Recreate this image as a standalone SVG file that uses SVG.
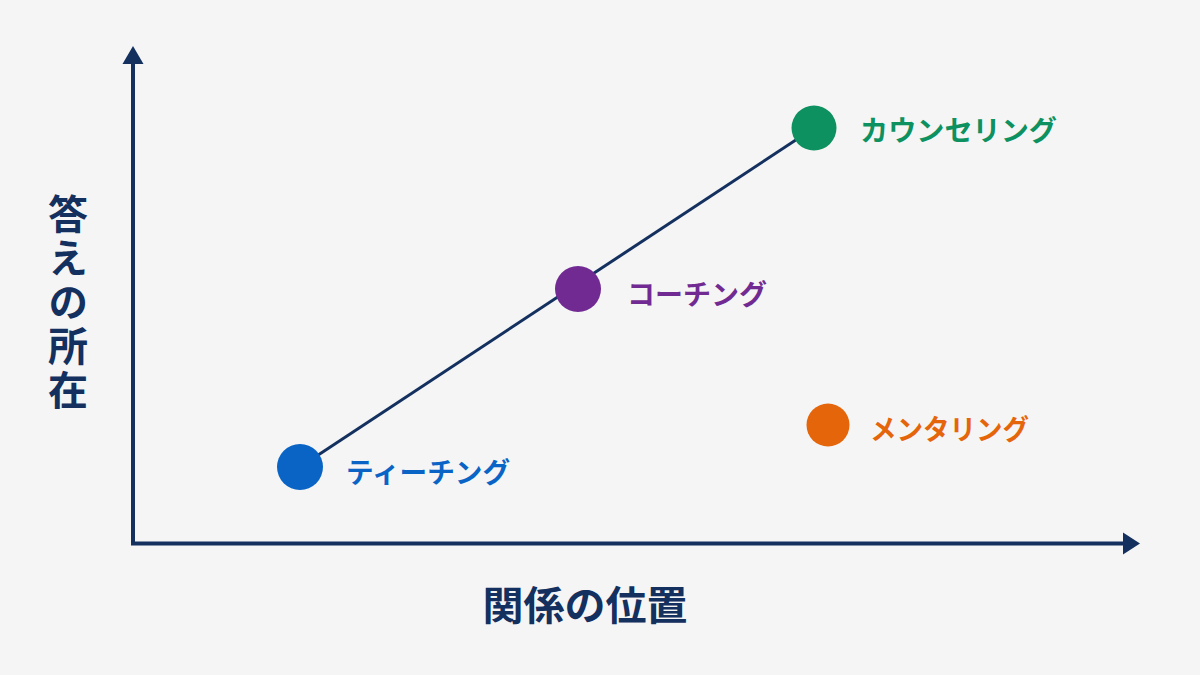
<svg xmlns="http://www.w3.org/2000/svg" width="1200" height="675" viewBox="0 0 1200 675">
<defs>
<style>
.lbl{font-family:"Noto Sans CJK JP","Noto Sans",sans-serif;font-weight:700;font-size:28px}
.ax{font-family:"Noto Sans CJK JP","Noto Sans",sans-serif;font-weight:700;font-size:40px;fill:#13305f}
.axis{stroke:#13305f;stroke-width:4;fill:none}
</style>
</defs>
<rect width="1200" height="675" fill="#f5f5f5"/>
<g id="axes">
<line class="axis" x1="133" y1="545" x2="133" y2="60"/>
<polygon points="133,46 122.5,64 143.5,64" fill="#13305f"/>
<line class="axis" x1="131" y1="543.5" x2="1126" y2="543.5"/>
<polygon points="1140,543.5 1123,532.5 1123,554.5" fill="#13305f"/>
</g>
<g id="connectors">
<line x1="300" y1="467" x2="814" y2="128" stroke="#13305f" stroke-width="3"/>
</g>
<g id="teaching">
<circle cx="300" cy="467" r="23" fill="#0a64c6"/>
<text class="lbl" x="346" y="483" fill="#0a64c6" textLength="164" lengthAdjust="spacingAndGlyphs">ティーチング</text>
</g>
<g id="coaching">
<circle cx="578" cy="289" r="23" fill="#712a92"/>
<text class="lbl" x="627" y="305" fill="#712a92" textLength="140" lengthAdjust="spacingAndGlyphs">コーチング</text>
</g>
<g id="counseling">
<circle cx="814" cy="128" r="22.5" fill="#0e9160"/>
<text class="lbl" x="860" y="141" fill="#0e9160" textLength="197" lengthAdjust="spacingAndGlyphs">カウンセリング</text>
</g>
<g id="mentoring">
<circle cx="828" cy="425" r="21.5" fill="#e5650a"/>
<text class="lbl" x="870" y="440" fill="#e5650a" textLength="159" lengthAdjust="spacingAndGlyphs">メンタリング</text>
</g>
<g id="y-label">
<text class="ax" x="68" y="194" style="writing-mode:vertical-rl;letter-spacing:4px">答えの所在</text>
</g>
<g id="x-label">
<text class="ax" x="585" y="620" text-anchor="middle" textLength="205" lengthAdjust="spacingAndGlyphs">関係の位置</text>
</g>
</svg>
